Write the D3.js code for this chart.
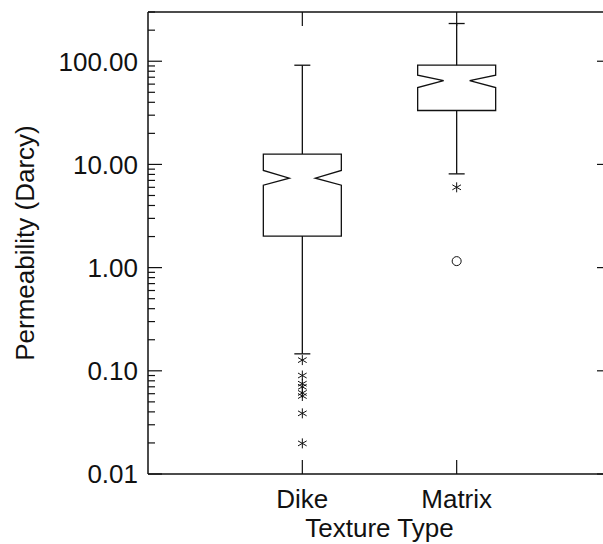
<!DOCTYPE html>
<html>
<head>
<meta charset="utf-8">
<script src="https://cdn.jsdelivr.net/npm/d3@7"></script>
<style>
  html, body { margin: 0; padding: 0; background: #fff; }
  svg { display: block; }
  text { font-family: "Liberation Sans", Arial, Helvetica, sans-serif; fill: #111; }
</style>
</head>
<body>
<svg id="chart" width="603" height="544"></svg>
<script>
// ---- data ----
const categories   = ["Dike", "Matrix"];
const whiskerLow   = [0.146, 8.1];
const q1           = [2.02, 33.3];
const notchLow     = [6.3, 55.6];
const median       = [7.36, 65.0];
const notchHigh    = [8.74, 73.2];
const q3           = [12.6, 91.5];
const whiskerHigh  = [91.5, 232];
const starOutliers = [
  [0.127, 0.090, 0.075, 0.070, 0.061, 0.057, 0.0387, 0.0198],
  [6.0]
];
const circleOutliers = [[], [1.156]];
const yTickValues  = [0.01, 0.1, 1, 10, 100];
const yDomain      = [0.01, 300];
const xTitle = "Texture Type";
const yTitle = "Permeability (Darcy)";

// ---- layout ----
const L = 148, R = 611, T = 12, B = 474;
const ink = "#111";
const svg = d3.select("#chart");

const x = d3.scalePoint().domain(categories).range([L, R]).padding(1);
const y = d3.scaleLog().domain(yDomain).range([B, T]);

// frame
const frame = svg.append("g").attr("stroke", ink).attr("stroke-width", 1.5).attr("fill", "none");
frame.append("line").attr("x1", L).attr("x2", R + 2).attr("y1", T).attr("y2", T);
frame.append("line").attr("x1", L).attr("x2", R + 2).attr("y1", B).attr("y2", B);
frame.append("line").attr("x1", L).attr("x2", L).attr("y1", T).attr("y2", B);
frame.append("line").attr("x1", R).attr("x2", R).attr("y1", T).attr("y2", B);

// minor ticks
const minorTicks = [];
for (let e = -2; e <= 2; e++) {
  for (let m = 2; m <= 9; m++) {
    const v = m * Math.pow(10, e);
    if (v <= yDomain[1]) minorTicks.push(v);
  }
}
const tickG = svg.append("g").attr("stroke", ink).attr("stroke-width", 1.2);
minorTicks.forEach(v => {
  tickG.append("line").attr("x1", L).attr("x2", L + 7).attr("y1", y(v)).attr("y2", y(v));
  tickG.append("line").attr("x1", R).attr("x2", R - 7).attr("y1", y(v)).attr("y2", y(v));
});
yTickValues.forEach(v => {
  tickG.append("line").attr("x1", L).attr("x2", L + 14).attr("y1", y(v)).attr("y2", y(v));
  tickG.append("line").attr("x1", R).attr("x2", R - 14).attr("y1", y(v)).attr("y2", y(v));
});
categories.forEach(c => {
  tickG.append("line").attr("x1", x(c)).attr("x2", x(c)).attr("y1", T).attr("y2", T + 14);
  tickG.append("line").attr("x1", x(c)).attr("x2", x(c)).attr("y1", B).attr("y2", B - 14);
});

// tick labels
const fmt = d3.format(".2f");
svg.append("g").selectAll("text").data(yTickValues).join("text")
  .attr("x", L - 10).attr("y", d => y(d)).attr("dy", "0.36em")
  .attr("text-anchor", "end").attr("font-size", 26)
  .text(d => fmt(d));

svg.append("g").selectAll("text").data(categories).join("text")
  .attr("x", d => x(d)).attr("y", 508)
  .attr("text-anchor", "middle").attr("font-size", 26)
  .text(d => d);

svg.append("text").attr("x", (L + R) / 2).attr("y", 537)
  .attr("text-anchor", "middle").attr("font-size", 26).text(xTitle);

svg.append("text")
  .attr("transform", `translate(34,${(T + B) / 2}) rotate(-90)`)
  .attr("text-anchor", "middle").attr("font-size", 26).text(yTitle);

// boxes
const boxHalf = 39, notchHalf = 13, capHalf = 8;
const boxes = svg.append("g").attr("stroke", ink).attr("stroke-width", 1.3).attr("fill", "none");
categories.forEach((c, i) => {
  const cx = x(c);
  // whiskers
  boxes.append("line").attr("x1", cx).attr("x2", cx).attr("y1", y(q3[i])).attr("y2", y(whiskerHigh[i]));
  boxes.append("line").attr("x1", cx).attr("x2", cx).attr("y1", y(q1[i])).attr("y2", y(whiskerLow[i]));
  boxes.append("line").attr("x1", cx - capHalf).attr("x2", cx + capHalf).attr("y1", y(whiskerHigh[i])).attr("y2", y(whiskerHigh[i]));
  boxes.append("line").attr("x1", cx - capHalf).attr("x2", cx + capHalf).attr("y1", y(whiskerLow[i])).attr("y2", y(whiskerLow[i]));
  // notched box
  const pts = [
    [cx - boxHalf, y(q3[i])], [cx + boxHalf, y(q3[i])],
    [cx + boxHalf, y(notchHigh[i])], [cx + notchHalf, y(median[i])],
    [cx + boxHalf, y(notchLow[i])], [cx + boxHalf, y(q1[i])],
    [cx - boxHalf, y(q1[i])], [cx - boxHalf, y(notchLow[i])],
    [cx - notchHalf, y(median[i])], [cx - boxHalf, y(notchHigh[i])]
  ];
  boxes.append("path").attr("d", d3.line()(pts) + "Z");

  // star outliers
  starOutliers[i].forEach(v => {
    const g = boxes.append("g").attr("transform", `translate(${cx},${y(v)})`).attr("stroke-width", 1);
    [90, 30, 150].forEach(a => {
      const r = 5, rad = a * Math.PI / 180;
      g.append("line").attr("x1", -r * Math.cos(rad)).attr("y1", -r * Math.sin(rad))
        .attr("x2", r * Math.cos(rad)).attr("y2", r * Math.sin(rad));
    });
  });
  circleOutliers[i].forEach(v => {
    boxes.append("circle").attr("cx", cx).attr("cy", y(v)).attr("r", 4.5).attr("stroke-width", 1);
  });
});
</script>
</body>
</html>
